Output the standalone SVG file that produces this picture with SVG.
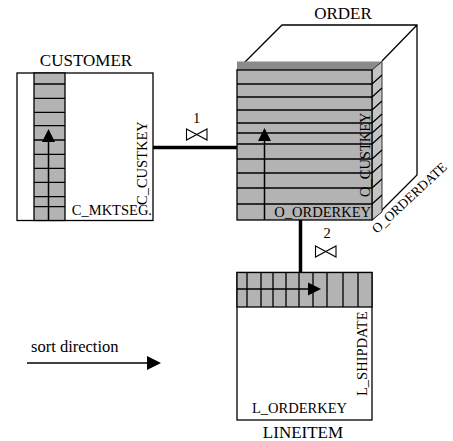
<svg xmlns="http://www.w3.org/2000/svg" width="453" height="441" viewBox="0 0 453 441">
<style>
text{font-family:"Liberation Serif","Times New Roman",serif;fill:#000}
.t{font-size:17px}
.l{font-size:14.5px}
.box{fill:#fff;stroke:#000;stroke-width:1.3}
.g{fill:#b3b3b3;stroke:#000;stroke-width:1.3}
.ln{stroke:#000;stroke-width:1.3;fill:none}
.ar{stroke:#000;stroke-width:1.5;fill:none}
.con{stroke:#000;stroke-width:3.5;fill:none}
.join{stroke:#000;stroke-width:1.1;fill:none;stroke-linejoin:miter}
</style>
<rect width="453" height="441" fill="#fff"/>

<g id="customer">
  <text class="t" x="86" y="66" text-anchor="middle">CUSTOMER</text>
  <rect class="box" x="17" y="73" width="136" height="147.5"/>
  <rect class="g" x="34" y="73" width="31" height="147.5"/>
  <path class="ln" d="M34,84H65M34,98.3H65M34,112.3H65M34,125.7H65M34,140H65M34,154.3H65M34,168.3H65M34,182.3H65M34,196.7H65M34,206.7H65"/>
  <path class="ar" d="M48.5,220.5V140"/>
  <polygon points="48.5,129 42,142 55,142" fill="#000"/>
  <text class="l" transform="translate(147,205) rotate(-90)">C_CUSTKEY</text>
  <text class="l" x="152" y="215" text-anchor="end">C_MKTSEG.</text>
</g>

<g id="order">
  <text class="t" x="343" y="19" text-anchor="middle">ORDER</text>
  <path class="ln" d="M237,70L282,25H417V175L372,220M417,25L382,61"/>
  <polygon points="237,61.5 382,61.5 372,70 237,70" fill="#8a8a8a"/>
  <polygon points="372,70 382,61.5 382,212 372,220" fill="#c4c4c4" stroke="#000" stroke-width="0.8"/>
  <rect class="g" x="237" y="70" width="135" height="150"/>
  <path class="ln" d="M237,84H372M237,97H372M237,110H372M237,123H372M237,133H372M237,144H372M237,159H372M237,173H372M237,188H372M237,204H372"/>
  <path class="ln" stroke-width="1" d="M372,84L382,75M372,97L382,88M372,110L382,101M372,123L382,114M372,133L382,124M372,144L382,135M372,159L382,150M372,173L382,164M372,188L382,179M372,204L382,195"/>
  <path class="ar" d="M264.5,220V140"/>
  <polygon points="264.5,128 258,141 271,141" fill="#000"/>
  <text class="l" transform="translate(370,197) rotate(-90)">O_CUSTKEY</text>
  <text class="l" x="371" y="216.5" text-anchor="end">O_ORDERKEY</text>
  <text transform="translate(377,234) rotate(-43)" font-size="13.5px">O_ORDERDATE</text>
</g>

<g id="lineitem">
  <rect class="box" x="237" y="272.5" width="135" height="147.5"/>
  <rect class="g" x="237" y="272.5" width="135" height="34.5"/>
  <path class="ln" d="M247,272.5V307M261,272.5V307M273,272.5V307M286,272.5V307M299,272.5V307M313,272.5V307M327,272.5V307M343,272.5V307M358,272.5V307"/>
  <path class="ar" d="M237,289H309"/>
  <polygon points="321,289 308,282.5 308,295.5" fill="#000"/>
  <text class="l" transform="translate(367,396) rotate(-90)">L_SHIPDATE</text>
  <text class="l" x="252" y="413">L_ORDERKEY</text>
  <text class="t" x="303" y="438" text-anchor="middle">LINEITEM</text>
</g>

<g id="connectors">
  <path class="con" d="M153,147.5H237"/>
  <path class="con" d="M300.5,220V272.5"/>
  <text class="l" x="196.5" y="123" text-anchor="middle">1</text>
  <path class="join" d="M186.5,129L207,140V129L186.5,140Z"/>
  <text class="l" x="327" y="238" text-anchor="middle">2</text>
  <path class="join" d="M315.5,246L336,257V246L315.5,257Z"/>
</g>

<g id="legend">
  <text x="31" y="352" font-size="16.5px">sort direction</text>
  <path class="ar" d="M27,363H148"/>
  <polygon points="161,363 147,356 147,370" fill="#000"/>
</g>
</svg>
